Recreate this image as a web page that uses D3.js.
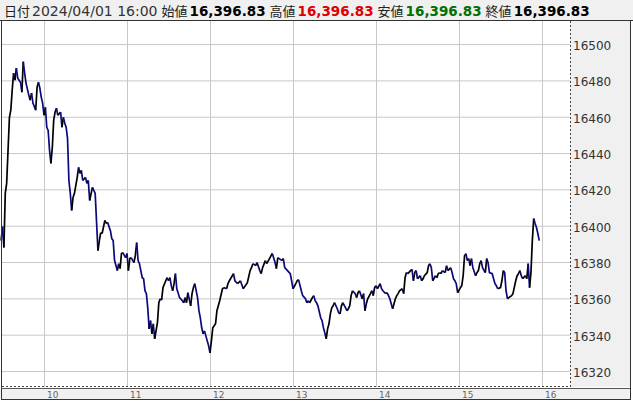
<!DOCTYPE html>
<html>
<head>
<meta charset="utf-8">
<script src="https://cdn.jsdelivr.net/npm/d3@7"></script>
<style>
  html, body { margin: 0; padding: 0; background: #fff; }
  svg { display: block; }
</style>
</head>
<body>
<div id="chart"></div>
<script>
"use strict"

// Intraday prices, one array per hour: [time, price]
const hour09 = [
    ["9:29", 16391.8], ["9:30", 16399.5], ["9:31", 16388.0], ["9:32", 16417.8],
    ["9:33", 16423.3], ["9:34", 16441.5], ["9:35", 16459.7], ["9:36", 16463.6],
    ["9:37", 16474.6], ["9:38", 16484.0], ["9:39", 16480.1], ["9:40", 16486.8],
    ["9:41", 16481.2], ["9:43", 16479.0], ["9:44", 16473.5], ["9:45", 16490.3],
    ["9:46", 16484.0], ["9:47", 16478.5], ["9:49", 16471.9], ["9:50", 16469.1],
    ["9:51", 16473.0], ["9:52", 16467.5], ["9:54", 16463.6], ["9:55", 16476.3],
    ["9:56", 16479.0], ["9:57", 16475.7], ["9:58", 16470.8], ["9:59", 16467.5]
]
const hour10 = [
    ["10:00", 16460.8], ["10:01", 16465.2], ["10:02", 16454.2], ["10:03", 16452.5],
    ["10:04", 16441.5], ["10:05", 16434.3], ["10:06", 16443.2], ["10:07", 16458.0],
    ["10:08", 16462.5], ["10:09", 16464.7], ["10:10", 16460.8], ["10:12", 16462.5],
    ["10:13", 16454.2], ["10:14", 16459.7], ["10:15", 16456.4], ["10:16", 16454.2],
    ["10:17", 16448.1], ["10:18", 16424.9], ["10:19", 16417.8], ["10:20", 16408.4],
    ["10:21", 16415.6], ["10:22", 16417.8], ["10:24", 16426.6], ["10:25", 16432.1],
    ["10:26", 16428.8], ["10:27", 16430.5], ["10:28", 16424.9], ["10:30", 16426.6],
    ["10:31", 16423.3], ["10:32", 16424.9], ["10:33", 16413.9], ["10:35", 16421.1],
    ["10:36", 16419.4], ["10:37", 16417.8], ["10:38", 16401.8], ["10:39", 16386.3],
    ["10:40", 16391.8], ["10:41", 16396.2], ["10:42", 16395.7], ["10:44", 16402.9],
    ["10:45", 16401.2], ["10:46", 16401.8], ["10:48", 16397.3], ["10:49", 16392.9],
    ["10:50", 16391.8], ["10:51", 16380.8], ["10:53", 16375.3], ["10:54", 16379.1],
    ["10:55", 16376.4], ["10:56", 16384.7], ["10:57", 16385.2], ["10:59", 16382.4]
]
const hour11 = [
    ["11:00", 16384.7], ["11:01", 16375.3], ["11:02", 16381.9], ["11:03", 16382.4],
    ["11:05", 16379.7], ["11:06", 16383.5], ["11:07", 16390.7], ["11:08", 16380.8],
    ["11:09", 16379.1], ["11:11", 16371.4], ["11:12", 16370.8], ["11:13", 16364.2],
    ["11:14", 16362.6], ["11:15", 16354.8], ["11:16", 16343.2], ["11:17", 16347.7],
    ["11:18", 16340.5], ["11:19", 16346.0], ["11:20", 16337.7], ["11:22", 16346.6],
    ["11:23", 16357.6], ["11:24", 16359.8], ["11:25", 16359.0], ["11:26", 16365.9],
    ["11:28", 16369.7], ["11:29", 16371.4], ["11:30", 16369.7], ["11:31", 16371.4],
    ["11:32", 16367.0], ["11:33", 16364.2], ["11:34", 16368.1], ["11:35", 16373.6],
    ["11:36", 16365.3], ["11:38", 16360.4], ["11:40", 16358.7], ["11:41", 16357.6],
    ["11:42", 16360.4], ["11:43", 16357.6], ["11:44", 16363.1], ["11:46", 16355.9],
    ["11:47", 16362.6], ["11:48", 16365.9], ["11:49", 16368.1], ["11:51", 16360.4],
    ["11:52", 16353.2], ["11:53", 16349.3], ["11:54", 16343.8], ["11:55", 16340.5],
    ["11:56", 16342.1], ["11:58", 16336.6], ["11:59", 16333.9]
]
const hour12 = [
    ["12:00", 16330.0], ["12:01", 16336.6], ["12:02", 16343.8], ["12:04", 16346.0],
    ["12:05", 16353.2], ["12:06", 16355.9], ["12:07", 16358.7], ["12:09", 16365.3],
    ["12:10", 16365.9], ["12:12", 16365.3], ["12:13", 16368.1], ["12:14", 16369.7],
    ["12:17", 16373.6], ["12:18", 16369.7], ["12:20", 16368.1], ["12:22", 16369.7],
    ["12:24", 16365.3], ["12:27", 16368.6], ["12:29", 16375.3], ["12:30", 16376.9],
    ["12:31", 16379.1], ["12:33", 16378.0], ["12:34", 16379.7], ["12:36", 16375.3],
    ["12:37", 16373.6], ["12:38", 16376.9], ["12:40", 16380.8], ["12:41", 16379.1],
    ["12:43", 16381.9], ["12:45", 16384.7], ["12:46", 16382.4], ["12:47", 16379.7],
    ["12:48", 16376.4], ["12:49", 16382.4], ["12:52", 16380.8], ["12:53", 16381.9],
    ["12:54", 16376.9], ["12:56", 16375.3], ["12:58", 16373.6], ["12:59", 16369.7]
]
const hour13 = [
    ["13:00", 16365.3], ["13:02", 16368.1], ["13:03", 16369.7], ["13:04", 16370.3],
    ["13:06", 16364.2], ["13:07", 16361.5], ["13:09", 16359.8], ["13:10", 16357.6],
    ["13:11", 16358.7], ["13:12", 16357.6], ["13:14", 16360.4], ["13:15", 16361.5],
    ["13:16", 16358.7], ["13:17", 16357.6], ["13:18", 16355.9], ["13:20", 16349.3],
    ["13:21", 16347.7], ["13:22", 16343.8], ["13:23", 16341.0], ["13:24", 16337.7],
    ["13:25", 16343.2], ["13:26", 16346.0], ["13:27", 16351.5], ["13:28", 16354.8],
    ["13:29", 16355.9], ["13:30", 16357.6], ["13:32", 16354.3], ["13:33", 16352.1],
    ["13:34", 16351.5], ["13:35", 16355.9], ["13:36", 16357.6], ["13:38", 16354.8],
    ["13:39", 16353.2], ["13:40", 16354.3], ["13:41", 16355.9], ["13:42", 16361.5],
    ["13:43", 16364.2], ["13:45", 16362.6], ["13:46", 16360.4], ["13:47", 16363.1],
    ["13:48", 16364.2], ["13:50", 16359.8], ["13:51", 16362.6], ["13:52", 16353.2],
    ["13:53", 16357.0], ["13:54", 16359.8], ["13:56", 16362.6], ["13:57", 16364.2],
    ["13:58", 16361.5], ["13:59", 16365.9]
]
const hour14 = [
    ["14:00", 16367.0], ["14:01", 16365.3], ["14:03", 16368.1], ["14:04", 16365.3],
    ["14:05", 16364.2], ["14:07", 16362.6], ["14:08", 16363.1], ["14:09", 16361.5],
    ["14:10", 16359.8], ["14:11", 16357.0], ["14:12", 16354.3], ["14:14", 16359.8],
    ["14:15", 16361.5], ["14:16", 16362.6], ["14:17", 16364.2], ["14:19", 16365.3],
    ["14:20", 16362.6], ["14:21", 16371.4], ["14:22", 16374.2], ["14:23", 16373.6],
    ["14:25", 16375.3], ["14:26", 16376.0], ["14:27", 16369.7], ["14:28", 16374.2],
    ["14:29", 16375.3], ["14:30", 16370.8], ["14:32", 16372.5], ["14:33", 16369.7],
    ["14:34", 16370.8], ["14:35", 16372.5], ["14:37", 16374.2], ["14:38", 16378.0],
    ["14:39", 16379.1], ["14:40", 16376.9], ["14:41", 16369.7], ["14:43", 16372.5],
    ["14:44", 16371.4], ["14:45", 16373.6], ["14:46", 16374.2], ["14:47", 16373.6],
    ["14:48", 16375.3], ["14:50", 16374.2], ["14:51", 16378.0], ["14:52", 16375.3],
    ["14:54", 16376.9], ["14:55", 16374.2], ["14:56", 16370.8], ["14:57", 16369.7],
    ["14:58", 16368.1], ["14:59", 16363.1]
]
const hour15 = [
    ["15:01", 16365.9], ["15:02", 16367.0], ["15:03", 16372.5], ["15:04", 16383.5],
    ["15:05", 16384.6], ["15:06", 16380.8], ["15:07", 16381.9], ["15:08", 16378.0],
    ["15:09", 16381.9], ["15:10", 16376.9], ["15:12", 16372.5], ["15:13", 16374.2],
    ["15:14", 16375.3], ["15:15", 16379.1], ["15:16", 16380.8], ["15:17", 16376.9],
    ["15:19", 16374.2], ["15:20", 16381.9], ["15:21", 16379.7], ["15:22", 16374.2],
    ["15:24", 16373.6], ["15:25", 16370.8], ["15:26", 16368.1], ["15:27", 16367.0],
    ["15:28", 16365.3], ["15:30", 16365.9], ["15:31", 16369.7], ["15:32", 16375.3],
    ["15:33", 16374.2], ["15:34", 16364.2], ["15:35", 16359.8], ["15:36", 16360.4],
    ["15:38", 16361.5], ["15:39", 16362.6], ["15:41", 16369.7], ["15:42", 16372.5],
    ["15:43", 16373.6], ["15:44", 16375.3], ["15:45", 16372.5], ["15:46", 16370.8],
    ["15:48", 16372.5], ["15:49", 16370.8], ["15:50", 16379.1], ["15:51", 16365.9],
    ["15:52", 16374.2], ["15:53", 16391.8], ["15:54", 16404.0], ["15:55", 16401.2],
    ["15:56", 16399.0], ["15:57", 16395.7], ["15:58", 16391.8]
]

const yTicks = [16320, 16340, 16360, 16380, 16400, 16420, 16440, 16460, 16480, 16500]
const xTicks = ["10:00", "11:00", "12:00", "13:00", "14:00", "15:00", "16:00"]
const viewStart = "9:29:38"
const viewEnd = "16:20:14"
const priceRange = [16311.2, 16512.7]

// Header: [label, value, value colour]
const header = [
    ["日付", "2024/04/01 16:00", null],
    ["始値", "16,396.83", "#000"],
    ["高値", "16,396.83", "#e00000"],
    ["安値", "16,396.83", "#007000"],
    ["終値", "16,396.83", "#000"]
]

const W = 633, H = 403
const plot = { left: 2, top: 21, right: 570, bottom: 387 }
const upColor = "#000000", downColor = "#0a0a7a"

const parseTime = d3.timeParse("%H:%M")
const parseSec = d3.timeParse("%H:%M:%S")
const series = [hour09, hour10, hour11, hour12, hour13, hour14, hour15]
    .flat()
    .map(([t, v]) => ({ t: parseTime(t), v: v }))

const x = d3.scaleTime()
    .domain([parseSec(viewStart), parseSec(viewEnd)])
    .range([plot.left, plot.right])
const y = d3.scaleLinear()
    .domain(priceRange)
    .range([plot.bottom, plot.top])

const svg = d3.select("#chart").append("svg")
    .attr("width", W)
    .attr("height", H)

// panels
svg.append("rect").attr("x", 0).attr("y", 0).attr("width", W).attr("height", 20)
    .attr("fill", "#f0f0f0")
svg.append("rect").attr("x", plot.right).attr("y", plot.top)
    .attr("width", 630 - plot.right).attr("height", plot.bottom - plot.top)
    .attr("fill", "#f0f0f0")
svg.append("rect").attr("x", 0).attr("y", 389).attr("width", 630).attr("height", 10)
    .attr("fill", "#f0f0f0")

// grid
const gridX = svg.append("g")
    .attr("transform", `translate(0, ${plot.bottom})`)
    .call(d3.axisBottom(x)
        .tickValues(xTicks.map(parseTime))
        .tickSize(-(plot.bottom - plot.top))
        .tickFormat(""))
const gridY = svg.append("g")
    .attr("transform", `translate(${plot.right}, 0)`)
    .call(d3.axisLeft(y)
        .tickValues(yTicks)
        .tickSize(plot.right - plot.left)
        .tickFormat(""))
for (let g of [gridX, gridY]) {
    g.select(".domain").remove()
    g.selectAll("line").attr("stroke", "#c8c8c8").attr("stroke-width", 1)
}

// price line, black when rising and navy when falling
const runs = []
for (let i = 1; i < series.length; i++) {
    const up = series[i].v >= series[i - 1].v
    const last = runs[runs.length - 1]
    if (last && last.up === up) { last.pts.push(series[i]) }
    else { runs.push({ up: up, pts: [series[i - 1], series[i]] }) }
}
const line = d3.line().x(d => x(d.t)).y(d => y(d.v))
svg.append("g")
    .selectAll("path")
    .data(runs)
    .enter()
    .append("path")
    .attr("d", d => line(d.pts))
    .attr("fill", "none")
    .attr("stroke", d => d.up ? upColor : downColor)
    .attr("stroke-width", 1.7)
    .attr("stroke-linejoin", "miter")

// axes
const yAxis = svg.append("g")
    .attr("transform", `translate(${plot.right}, 0)`)
    .call(d3.axisRight(y).tickValues(yTicks).tickSize(0).tickPadding(3).tickFormat(d3.format("d")))
yAxis.select(".domain").remove()
yAxis.selectAll("text")
    .attr("dy", "0.45em")
    .attr("fill", "#333")
    .style("font", "12px 'DejaVu Sans', sans-serif")

const xAxis = svg.append("g")
    .attr("transform", "translate(0, 389)")
    .call(d3.axisBottom(x).tickValues(xTicks.map(parseTime)).tickSize(0).tickPadding(0)
        .tickFormat(d3.timeFormat("%-H")))
xAxis.select(".domain").remove()
xAxis.selectAll("text")
    .attr("text-anchor", "start")
    .attr("dx", 2.5)
    .attr("y", 8.5)
    .attr("dy", 0)
    .attr("fill", "#666")
    .style("font", "9px 'DejaVu Sans', sans-serif")

// frame lines
const frame = svg.append("g").attr("fill", "none")
frame.append("line").attr("x1", 0).attr("x2", W).attr("y1", 20.5).attr("y2", 20.5)
    .attr("stroke", "#333")
frame.append("line").attr("x1", 1.5).attr("x2", 1.5).attr("y1", 20).attr("y2", 400)
    .attr("stroke", "#333")
frame.append("line").attr("x1", plot.left).attr("x2", plot.right)
    .attr("y1", plot.bottom - 0.5).attr("y2", plot.bottom - 0.5)
    .attr("stroke", "#444").attr("stroke-dasharray", "2,2")
frame.append("line").attr("x1", plot.right + 0.5).attr("x2", plot.right + 0.5)
    .attr("y1", plot.top).attr("y2", plot.bottom)
    .attr("stroke", "#444").attr("stroke-dasharray", "2,2")
frame.append("line").attr("x1", 1).attr("x2", 630).attr("y1", 388.5).attr("y2", 388.5)
    .attr("stroke", "#555")
frame.append("line").attr("x1", 1).attr("x2", 631).attr("y1", 399.5).attr("y2", 399.5)
    .attr("stroke", "#333")
frame.append("line").attr("x1", 630.5).attr("x2", 630.5).attr("y1", 20).attr("y2", 400)
    .attr("stroke", "#333")

// header text
const head = svg.append("text")
    .attr("x", 4)
    .attr("y", 15.5)
    .style("font-family", "'DejaVu Sans', sans-serif")
header.forEach(([label, value, color], i) => {
    head.append("tspan")
        .attr("dx", i === 0 ? 0 : 4)
        .style("font-family", "'Noto Sans CJK JP', sans-serif")
        .style("font-size", "13px")
        .attr("fill", "#222")
        .text(label)
    head.append("tspan")
        .attr("dx", 2)
        .style("font-size", color ? "13.5px" : "14px")
        .style("font-weight", color ? "bold" : "normal")
        .attr("fill", color || "#333")
        .text(value)
})
</script>
</body>
</html>
